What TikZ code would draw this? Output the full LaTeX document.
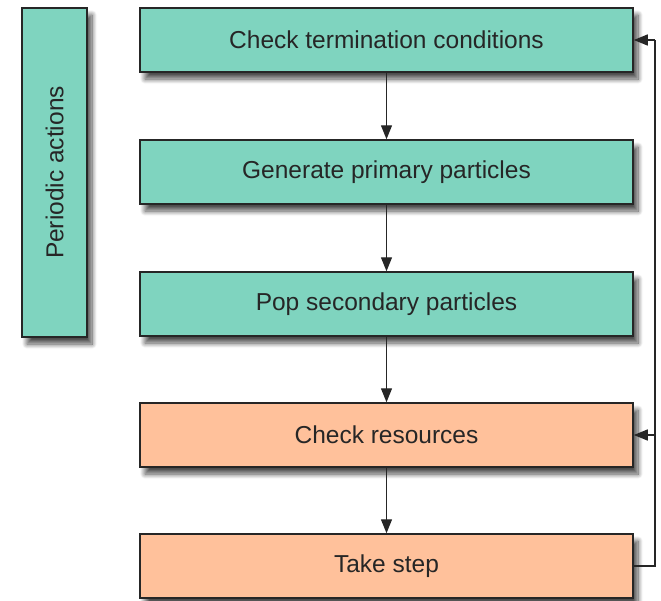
\documentclass[tikz,border=0pt]{standalone}
\usepackage{fontspec}
\setmainfont{Liberation Sans}
\usetikzlibrary{shadows.blur,arrows.meta}
\definecolor{tealbox}{HTML}{7FD4BF}
\definecolor{orangebox}{HTML}{FFC19B}
\tikzset{
  box/.style={draw=black!85, line width=1.5pt, minimum width=493pt, minimum height=64pt, inner sep=0pt,
    font=\fontsize{24.5}{28}\selectfont, text=black!85, blur shadow={shadow xshift=5pt, shadow yshift=-7pt, shadow blur steps=10, shadow blur radius=5pt, shadow opacity=70}},
  tbox/.style={box, fill=tealbox},
  obox/.style={box, fill=orangebox},
  conn/.style={line width=1.3pt, draw=black!85, -{Triangle[length=14pt,width=11pt]}}
}
\begin{document}
\begin{tikzpicture}[x=1pt,y=-1pt]
\useasboundingbox (0,0) rectangle (661,600);
\node[tbox, minimum width=65pt, minimum height=329pt] (pa) at (54.5,172.5) {\rotatebox{90}{Periodic actions}};
\node[tbox] (b1) at (386.5,40) {Check termination conditions};
\node[tbox] (b2) at (386.5,172) {Generate primary particles};
\node[tbox] (b3) at (386.5,304) {Pop secondary particles};
\node[obox] (b4) at (386.5,435) {Check resources};
\node[obox] (b5) at (386.5,566) {Take step};
\draw[conn] (b1) -- (b2);
\draw[conn] (b2) -- (b3);
\draw[conn] (b3) -- (b4);
\draw[conn] (b4) -- (b5);
\coordinate (r5) at (655,566);
\coordinate (r1) at (655,40);
\coordinate (r4) at (655,435);
\draw[conn, -] (b5.east) -- (r5) -- (r1);
\draw[conn] (r1) -- (b1.east);
\draw[conn] (r4) -- (b4.east);
\end{tikzpicture}
\end{document}
